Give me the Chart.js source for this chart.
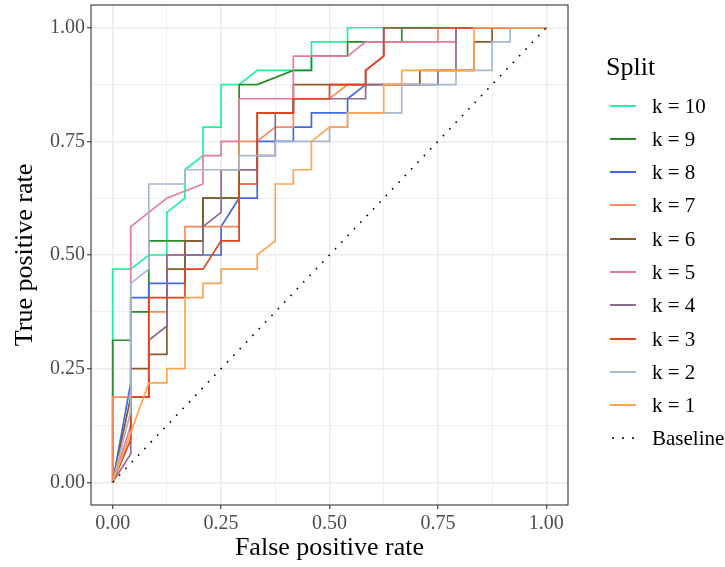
<!DOCTYPE html>
<html>
<head>
<meta charset="utf-8">
<script src="https://cdn.jsdelivr.net/npm/chart.js@4.4.1/dist/chart.umd.min.js"></script>
<style>
  html, body { margin: 0; padding: 0; background: #ffffff; }
  #wrap { position: relative; width: 725px; height: 567px; overflow: hidden; font-family: "Liberation Serif", serif; }
  #c { position: absolute; left: 0; top: 0; }
  .lg-title { position: absolute; font-size: 26px; color: #000; line-height: 30px; }
  .lg-row { position: absolute; height: 24px; }
  .lg-line { position: absolute; height: 0; }
  .lg-text { position: absolute; font-size: 21px; line-height: 24px; color: #000; white-space: nowrap; }
  .lg-dot { position: absolute; width: 2px; height: 2px; background: #000; border-radius: 1px; }
</style>
</head>
<body>
<div id="wrap">
  <canvas id="c" width="725" height="567"></canvas>
</div>
<script>
// ---- Data (counts: 24 negatives, 32 positives) ----
const nNeg = 24;
const nPos = 32;

const split10Fp = [0,0,1,2,3,3,4,4,5,5,6,6,7,8,11,11,13,13,24];
const split10Tp = [0,15,15,16,16,19,20,22,23,25,25,28,28,29,29,31,31,32,32];

const split9Fp = [0,0,1,1,2,2,4,5,5,7,7,8,10,11,11,13,13,16,16,24];
const split9Tp = [0,10,10,12,12,17,17,17,20,20,28,28,29,29,30,30,31,31,32,32];

const split8Fp = [0,1,1,2,2,4,4,6,6,7,8,8,10,10,11,11,13,13,14,14,15,15,24];
const split8Tp = [0,7,13,13,14,14,16,16,18,20,20,24,24,25,25,26,26,27,28,29,30,32,32];

const split7Fp = [0,0,1,2,2,3,3,4,4,7,7,8,9,10,10,12,13,14,14,15,15,18,18,24];
const split7Tp = [0,6,6,6,12,12,16,16,18,18,24,24,25,25,27,27,28,28,29,30,31,31,32,32];

const split6Fp = [0,1,1,2,2,3,3,4,4,5,5,7,7,8,8,10,10,17,17,20,20,21,21,24];
const split6Tp = [0,6,8,8,9,9,15,15,17,17,20,20,22,22,26,26,28,28,29,29,31,31,32,32];

const split5Fp = [0,1,1,3,5,5,6,6,7,7,10,10,13,14,19,19,24];
const split5Tp = [0,4,18,20,21,23,23,24,24,27,27,30,30,31,31,32,32];

const split4Fp = [0,1,1,2,2,3,3,5,5,6,6,8,8,9,9,10,10,14,14,18,18,19,19,24];
const split4Tp = [0,2,6,6,10,11,16,16,18,19,22,22,23,23,26,26,27,27,28,28,29,29,32,32];

const split3Fp = [0,1,1,2,2,4,4,5,6,7,7,8,8,10,10,12,12,14,14,15,15,24];
const split3Tp = [0,3,6,6,13,13,15,15,17,17,21,21,26,26,27,27,28,28,29,30,32,32];

const split2Fp = [0,1,1,2,2,4,4,7,7,9,9,12,12,13,13,16,16,19,19,21,21,22,22,24];
const split2Tp = [0,5,14,15,21,21,22,22,23,23,24,24,25,25,26,26,28,28,29,29,31,31,32,32];

const split1Fp = [0,2,3,3,4,4,5,5,6,6,8,8,9,9,10,10,11,11,12,13,13,15,15,16,16,20,20,24];
const split1Tp = [0,7,7,8,8,13,13,14,14,15,15,16,17,21,21,22,22,24,25,25,26,26,28,28,29,29,32,32];

const baselineX = [0, 1];
const baselineY = [0, 1];

const splitLabels = ["k = 10","k = 9","k = 8","k = 7","k = 6","k = 5","k = 4","k = 3","k = 2","k = 1"];
const majorTicks = [0, 0.25, 0.5, 0.75, 1];
const minorTicks = [0.125, 0.375, 0.625, 0.875];
const legendTitle = "Split";
const baselineLabel = "Baseline";
const xTitle = "False positive rate";
const yTitle = "True positive rate";

// ---- Styles ----
const splitColors = ["#1EF29F","#2A8C2A","#4169E1","#F98A5E","#8B5A2B","#E87A9D","#8F6A8F","#E5421B","#A6B8D2","#FFA552"];

const fpSets = [split10Fp,split9Fp,split8Fp,split7Fp,split6Fp,split5Fp,split4Fp,split3Fp,split2Fp,split1Fp];
const tpSets = [split10Tp,split9Tp,split8Tp,split7Tp,split6Tp,split5Tp,split4Tp,split3Tp,split2Tp,split1Tp];

const datasets = splitLabels.map((lab, i) => ({
  label: lab,
  data: fpSets[i].map((f, j) => ({ x: f / nNeg, y: tpSets[i][j] / nPos })),
  borderColor: splitColors[i],
  backgroundColor: splitColors[i],
  borderWidth: 1.7,
  pointRadius: 0,
  showLine: true,
  fill: false,
  tension: 0,
  order: 10 - i + 1   // k = 10 drawn first, k = 1 on top
}));
datasets.push({
  label: baselineLabel,
  data: baselineX.map((x, j) => ({ x: x, y: baselineY[j] })),
  borderColor: "#000000",
  borderWidth: 1.6,
  borderDash: [1.6, 7.6],
  pointRadius: 0,
  showLine: true,
  fill: false,
  order: 0
});

const allTicks = majorTicks.concat(minorTicks).sort((a, b) => a - b);
const isMajor = v => majorTicks.some(m => Math.abs(m - v) < 1e-9);

const tickFont = { family: "Liberation Serif", size: 20 };
const titleFont = { family: "Liberation Serif", size: 26 };

function axis(pos, title, fit) {
  return {
    type: "linear",
    position: pos,
    min: -0.05,
    max: 1.05,
    afterBuildTicks: s => { s.ticks = allTicks.map(v => ({ value: v })); },
    afterFit: s => {
      fit(s);
      s.paddingTop = 0; s.paddingBottom = 0; s.paddingLeft = 0; s.paddingRight = 0;
    },
    ticks: {
      autoSkip: false,
      maxRotation: 0,
      font: tickFont,
      color: "#4D4D4D",
      padding: pos === "left" ? 2 : 3,
      callback: v => isMajor(v) ? v.toFixed(2) : ""
    },
    grid: {
      color: "#EBEBEB",
      lineWidth: c => (c.tick && isMajor(c.tick.value)) ? 1.5 : 0.8,
      drawTicks: true,
      tickLength: 4,
      tickWidth: 1.1,
      tickColor: c => (c.tick && isMajor(c.tick.value)) ? "#333333" : "rgba(0,0,0,0)"
    },
    border: { display: false },
    title: {
      display: true,
      text: title,
      font: titleFont,
      color: "#000000",
      padding: pos === "left" ? { top: 10, bottom: 0 } : { top: 0, bottom: 3 }
    }
  };
}

const panelBorder = {
  id: "panelBorder",
  afterDraw(chart) {
    const a = chart.chartArea, ctx = chart.ctx;
    ctx.save();
    ctx.strokeStyle = "#333333";
    ctx.lineWidth = 1.1;
    ctx.strokeRect(a.left, a.top, a.right - a.left, a.bottom - a.top);
    ctx.restore();
  }
};

new Chart(document.getElementById("c"), {
  type: "scatter",
  data: { datasets: datasets },
  options: {
    responsive: false,
    animation: false,
    layout: { padding: { left: 0, right: 157, top: 5, bottom: 0 } },
    plugins: { legend: { display: false }, tooltip: { enabled: false } },
    scales: {
      x: axis("bottom", xTitle, s => { s.height = 62; }),
      y: axis("left", yTitle, s => { s.width = 91; })
    }
  },
  plugins: [panelBorder]
});

// ---- Legend (HTML text) ----
const wrap = document.getElementById("wrap");
const t = document.createElement("div");
t.className = "lg-title";
t.textContent = legendTitle;
t.style.left = "606px";
t.style.top = (67 - 15) + "px";
wrap.appendChild(t);

const rowStart = 105.7, rowStep = 33.26;
const legendItems = splitLabels.concat([baselineLabel]);
legendItems.forEach((lab, i) => {
  const cy = rowStart + i * rowStep;
  if (i < splitLabels.length) {
    const ln = document.createElement("div");
    ln.className = "lg-line";
    ln.style.left = "610px";
    ln.style.width = "26px";
    ln.style.top = (cy - 1) + "px";
    ln.style.borderTop = "2px solid " + splitColors[i];
    wrap.appendChild(ln);
  } else {
    [612, 622, 632].forEach(x => {
      const d = document.createElement("div");
      d.className = "lg-dot";
      d.style.left = x + "px";
      d.style.top = (cy - 1) + "px";
      wrap.appendChild(d);
    });
  }
  const tx = document.createElement("div");
  tx.className = "lg-text";
  tx.textContent = lab;
  tx.style.left = "652px";
  tx.style.top = (cy - 12) + "px";
  wrap.appendChild(tx);
});
</script>
</body>
</html>
